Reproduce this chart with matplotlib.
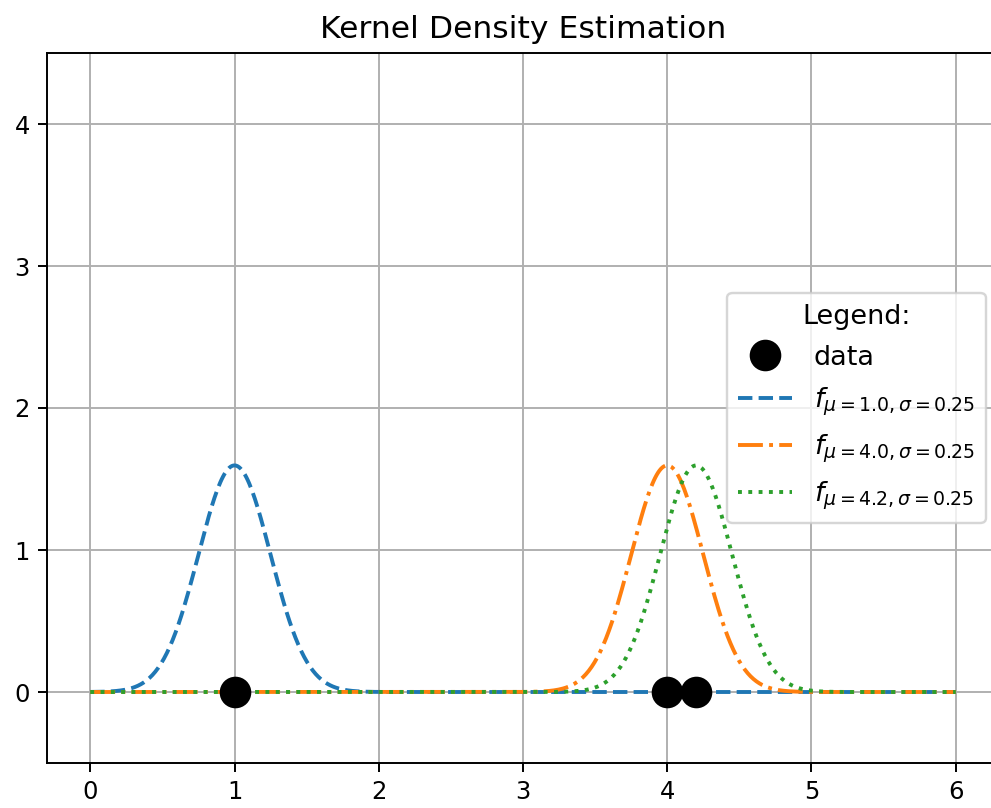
import numpy as np
import matplotlib
matplotlib.use("Agg")
import matplotlib.pyplot as plt

data_points = [1.0, 4.0, 4.2]
means = [1.0, 4.0, 4.2]
sigma = 0.25
styles = ["--", "-.", ":"]
colors = ["#1f77b4", "#ff7f0e", "#2ca02c"]

DPI = 175
fig = plt.figure(figsize=(992 / DPI, 808 / DPI), dpi=DPI)
W, H = 992, 808
left, right, top, bottom = 47, 999, 53, 763
ax = fig.add_axes([left / W, 1 - bottom / H, (right - left) / W, (bottom - top) / H])

x = np.linspace(0, 6, 600)
ax.plot(data_points, np.zeros(len(data_points)), "o", color="black", ms=12,
        label="data", zorder=5)
for mu, ls, c in zip(means, styles, colors):
    y = np.exp(-0.5 * ((x - mu) / sigma) ** 2) / (sigma * np.sqrt(2 * np.pi))
    ax.plot(x, y, ls, color=c, lw=1.6,
            label=r"$f_{\mu=%.1f, \sigma=%.2f}$" % (mu, sigma))

ax.set_xlim(-0.3, 6.3)
ax.set_ylim(-0.5, 4.5)
ax.set_xticks(range(0, 7))
ax.set_yticks(range(0, 5))
ax.grid(True)
ax.set_title("Kernel Density Estimation", fontsize=12.9)
ax.legend(title="Legend:", loc="center right", fontsize=11.1, title_fontsize=11.1,
          labelspacing=0.55)

fig.savefig("out.png", dpi=DPI)
